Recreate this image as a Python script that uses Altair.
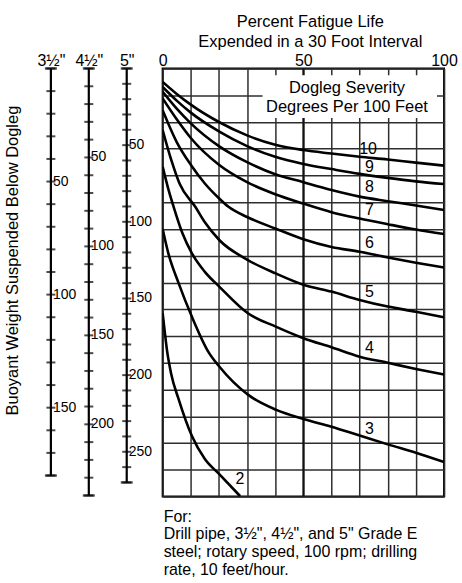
import altair as alt
import pandas as pd

FONT = "Liberation Sans"

# ---------------- data ----------------
# Curves: percent fatigue life (x) vs vertical position in grid rows (0 = top, 16 = bottom)
dogleg_levels = [10, 9, 8, 7, 6, 5, 4, 3, 2]

pct_10 = [0, 5, 10, 20, 30, 40, 50, 60, 70, 80, 90, 100]
row_10 = [0.5, 0.95, 1.35, 2.0, 2.5, 2.85, 3.05, 3.18, 3.3, 3.4, 3.52, 3.63]

pct_9 = [0, 5, 10, 20, 30, 40, 50, 60, 70, 80, 90, 100]
row_9 = [0.69, 1.2, 1.65, 2.35, 2.9, 3.3, 3.57, 3.76, 3.94, 4.09, 4.22, 4.32]

pct_8 = [0, 5, 10, 20, 30, 40, 50, 60, 70, 80, 90, 100]
row_8 = [0.87, 1.5, 2.05, 2.9, 3.5, 3.95, 4.25, 4.54, 4.79, 4.96, 5.12, 5.29]

pct_7 = [0, 5, 10, 20, 30, 40, 50, 60, 70, 80, 90, 100]
row_7 = [1.12, 1.9, 2.6, 3.6, 4.25, 4.7, 5.05, 5.37, 5.61, 5.82, 6.02, 6.19]

pct_6 = [0, 5, 10, 15, 20, 23.4, 30, 40, 50, 60, 70, 80, 90, 100]
row_6 = [1.56, 2.75, 3.6, 4.3, 4.85, 5.17, 5.55, 5.98, 6.38, 6.67, 6.85, 7.06, 7.26, 7.44]

pct_5 = [0, 3, 6, 11.6, 15, 20.2, 30.3, 40.2, 50, 60, 70, 80, 90, 100]
row_5 = [2.3, 3.4, 4.3, 5.17, 5.75, 6.42, 7.16, 7.66, 8.08, 8.34, 8.65, 8.9, 9.09, 9.3]

pct_4 = [0, 2, 3.9, 7, 10.4, 15, 20.2, 30.3, 40.2, 50, 60, 70, 80, 90, 100]
row_4 = [3.67, 4.5, 5.17, 6.15, 6.91, 7.6, 8.16, 9.15, 9.65, 10.08, 10.42, 10.77, 11.0, 11.23, 11.44]

pct_3 = [0, 2, 5.7, 10.4, 16.3, 20.2, 30.3, 40.2, 50, 60, 70, 80, 90, 100]
row_3 = [6.0, 6.9, 8.03, 9.28, 10.6, 11.15, 12.19, 12.75, 13.1, 13.39, 13.72, 14.05, 14.36, 14.71]

pct_2 = [0, 0.7, 1.5, 3, 5.7, 10.4, 15, 20.2, 27.5]
row_2 = [9.14, 9.8, 10.5, 11.4, 12.37, 13.74, 14.6, 15.17, 15.98]

# Curve labels
label_text = ["10", "9", "8", "7", "6", "5", "4", "3", "2"]
label_pct = [73, 73.5, 73.5, 73.5, 73.5, 73.5, 73.5, 73.5, 27.5]
label_row = [3.02, 3.68, 4.44, 5.3, 6.54, 8.34, 10.46, 13.49, 15.36]

# Weight scales (kips) for the three pipe sizes
pipe_names = ['3½"', '4½"', '5"']
pipe_ends = [180, 240, 270]
pipe_span = [189.3, 240.6, 279.2]
pipe_labels = [[50, 100, 150], [50, 100, 150, 200], [50, 100, 150, 200, 250]]

main_title = ["Percent Fatigue Life", "Expended in a 30 Foot Interval"]
box_lines = ["Dogleg Severity", "Degrees Per 100 Feet"]
note_lines = ["For:",
              'Drill pipe, 3½", 4½", and 5" Grade E',
              "steel; rotary speed, 100 rpm; drilling",
              "rate, 10 feet/hour."]
y_title = "Buoyant Weight Suspended Below Dogleg"

# ---------------- tables ----------------
curve_rows = []
for lev, xs, ys in zip(dogleg_levels,
                       [pct_10, pct_9, pct_8, pct_7, pct_6, pct_5, pct_4, pct_3, pct_2],
                       [row_10, row_9, row_8, row_7, row_6, row_5, row_4, row_3, row_2]):
    for a, b in zip(xs, ys):
        curve_rows.append({"level": lev, "pct": a, "row": b})
curves_df = pd.DataFrame(curve_rows)
labels_df = pd.DataFrame({"lab": label_text, "pct": label_pct, "row": label_row})

H = 429
W_MAIN = 282
W_SCALE = 114
GRID = "#2e2e2e"

# ---------------- scale panel ----------------
x_pipe_axis = alt.Axis(orient="top", title=None, labelAngle=0, ticks=False, domain=False,
                       labelFontSize=16, labelPadding=0, labelColor="black")
x_pipe = alt.X("pipe:N", scale=alt.Scale(type="point", domain=pipe_names, padding=0.5),
               axis=x_pipe_axis)


def pipe_layer(i, with_title):
    name = pipe_names[i]
    ticks = pd.DataFrame({"pipe": name, "w": list(range(0, pipe_ends[i] + 1, 10))})
    ends = pd.DataFrame({"pipe": name, "w": [0, pipe_ends[i]]})
    spine = pd.DataFrame({"pipe": [name], "w": [0], "w2": [pipe_ends[i]]})
    labs = pd.DataFrame({"pipe": name, "w": pipe_labels[i]})
    if with_title:
        yax = alt.Axis(title=y_title, labels=False, ticks=False, domain=False, grid=False,
                       titleFontSize=16.5, titleFontWeight="normal", titleColor="black",
                       titlePadding=11, titleY=192)
    else:
        yax = None
    y = alt.Y("w:Q", scale=alt.Scale(domain=[0, pipe_span[i]], reverse=True, nice=False, zero=False),
              axis=yax)
    l1 = alt.Chart(spine).mark_rule(color="black", strokeWidth=2.2).encode(x=x_pipe, y=y, y2="w2:Q")
    l2 = alt.Chart(ticks).mark_tick(color="black", size=9, thickness=2).encode(x=x_pipe, y=y)
    l3 = alt.Chart(ends).mark_tick(color="black", size=12, thickness=2.4).encode(x=x_pipe, y=y)
    l4 = alt.Chart(labs).mark_text(align="left", baseline="middle", dx=2, fontSize=14,
                                   color="black").encode(x=x_pipe, y=y, text="w:Q")
    return alt.layer(l1, l2, l3, l4)


scale_panel = alt.layer(pipe_layer(0, True), pipe_layer(1, False), pipe_layer(2, False)).resolve_scale(
    y="independent"
).properties(width=W_SCALE, height=H, view=alt.ViewBackground(stroke=None))

# ---------------- main panel ----------------
x_axis = alt.Axis(orient="top", values=list(range(0, 101, 10)),
                  labelExpr="datum.value % 50 == 0 ? datum.label : ''",
                  ticks=False, domain=False, grid=True, gridColor=GRID, gridWidth=1.5,
                  labelFontSize=16, labelPadding=0, labelFlush=False, labelColor="black", title=None)
y_axis = alt.Axis(values=list(range(0, 17)), labels=False, ticks=False, domain=False, grid=True,
                  gridColor=GRID, gridWidth=1.5, title=None)
xs = alt.Scale(domain=[0, 100], nice=False, zero=False)
ys = alt.Scale(domain=[0, 16], reverse=True, nice=False, zero=False)


def X(f):
    return alt.X(f, scale=xs, axis=x_axis)


def Y(f):
    return alt.Y(f, scale=ys, axis=y_axis)


mid_df = pd.DataFrame({"pct": [50], "r0": [0], "r1": [16]})
mid_rule = alt.Chart(mid_df).mark_rule(color="#111111", strokeWidth=2).encode(
    x=X("pct:Q"), y=Y("r0:Q"), y2="r1:Q")

box_df = pd.DataFrame({"b0": [35.5], "b1": [97.5], "r0": [0.25], "r1": [1.85]})
box = alt.Chart(box_df).mark_rect(color="white").encode(
    x=X("b0:Q"), x2="b1:Q", y=Y("r0:Q"), y2="r1:Q")

box_text_df = pd.DataFrame({"t": box_lines, "pct": [65.5, 65.5], "row": [0.93, 1.62]})
box_text = alt.Chart(box_text_df).mark_text(fontSize=16.5, baseline="alphabetic", color="black").encode(
    x=X("pct:Q"), y=Y("row:Q"), text="t:N")

lines = alt.Chart(curves_df).mark_line(color="black", strokeWidth=2.6, interpolate="monotone",
                                       clip=True).encode(
    x=X("pct:Q"), y=Y("row:Q"), detail="level:N")

labels = alt.Chart(labels_df).mark_text(fontSize=16, baseline="middle", color="black").encode(
    x=X("pct:Q"), y=Y("row:Q"), text="lab:N")

main_panel = alt.layer(mid_rule, box, box_text, lines, labels).properties(
    width=W_MAIN, height=H,
    view=alt.ViewBackground(stroke="black", strokeWidth=2),
    title=alt.TitleParams(main_title, fontSize=16.5, fontWeight="normal", lineHeight=20,
                          anchor="middle", offset=2, dx=7, color="black"),
)

chart = alt.hconcat(scale_panel, main_panel, spacing=17, bounds="flush").properties(
    title=alt.TitleParams(note_lines, orient="bottom", anchor="start", dx=159, fontSize=16,
                          fontWeight="normal", lineHeight=18, offset=10, color="black"),
    padding={"left": 5, "top": 12, "right": 3, "bottom": 3},
).configure(font=FONT).configure_view(fill="white")

chart.save("out.html", embed_options={"renderer": "svg", "actions": False})
